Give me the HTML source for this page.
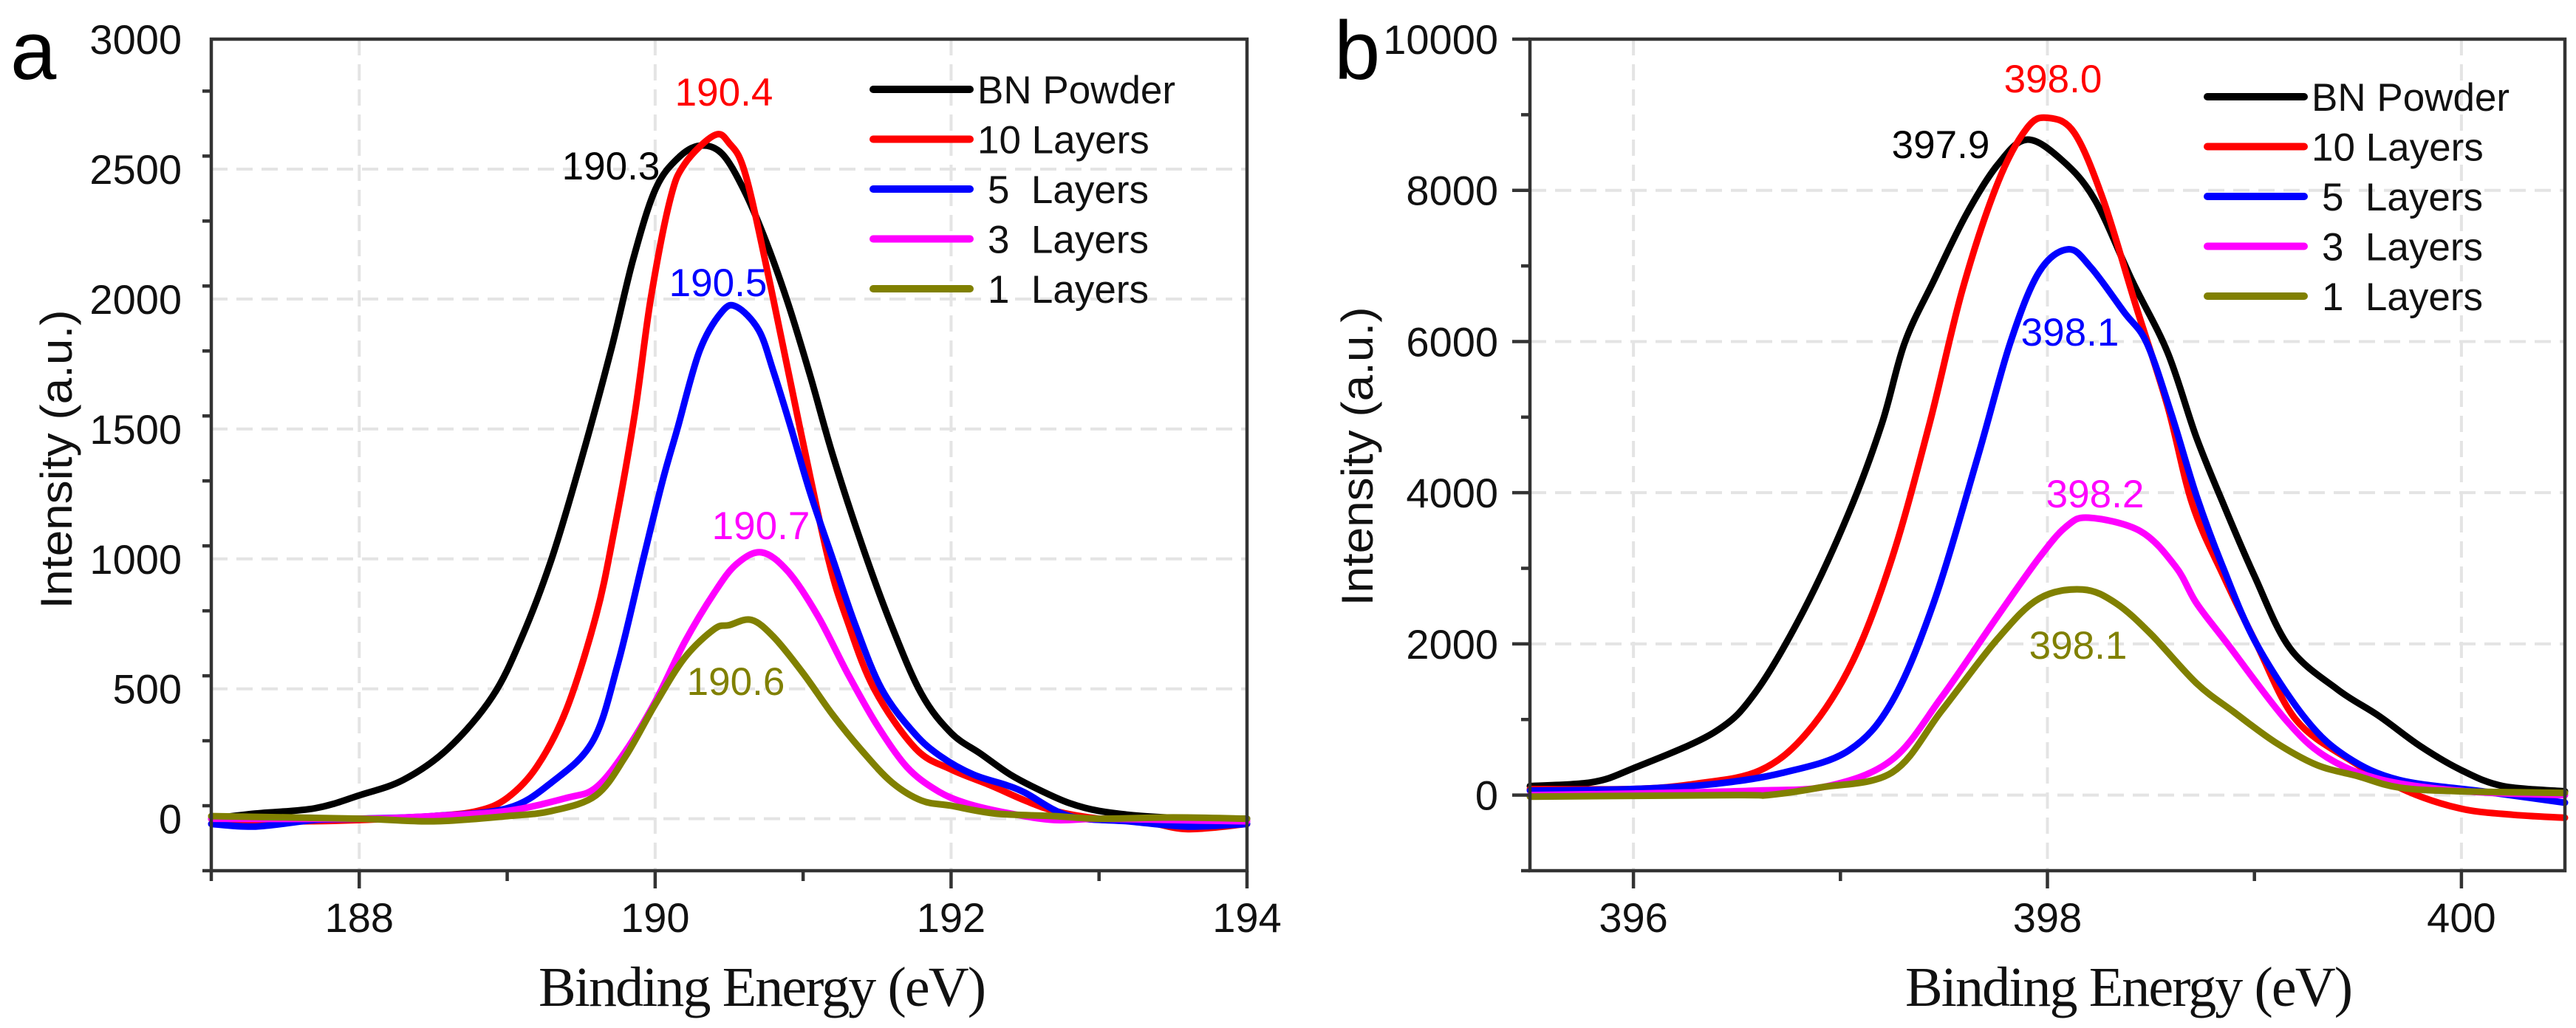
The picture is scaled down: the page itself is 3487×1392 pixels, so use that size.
<!DOCTYPE html>
<html><head><meta charset="utf-8"><style>
html,body{margin:0;padding:0;background:#fff;}
svg{display:block;}
text{font-family:"Liberation Sans",Arial,sans-serif;}
</style></head><body>
<svg id="chart" width="3487" height="1392" viewBox="0 0 3487 1392" xmlns="http://www.w3.org/2000/svg">
<g id="pa"></g>
<g id="pb"></g>
</svg>
<script>
// ---- Panel a data (B 1s) ----
const seriesNames = ["BN Powder","10 Layers","5  Layers","3  Layers","1  Layers"];
const seriesColors = ["#000000","#ff0000","#0000ff","#ff00ff","#808000"];
const aXTicks = [188,190,192,194];
const aYTicks = [0,500,1000,1500,2000,2500,3000];
const aBlackX = [187,187.3,187.7,188,188.3,188.6,188.9,189.1,189.3,189.5,189.7,189.85,190,190.15,190.3,190.45,190.6,190.75,190.9,191.05,191.2,191.4,191.6,191.8,192,192.2,192.4,192.6,192.8,193,193.3,193.7,194];
const aBlackY = [0,20,40,90,150,270,470,700,1000,1380,1800,2150,2420,2540,2590,2560,2420,2220,1980,1700,1400,1050,740,480,330,250,170,110,60,30,10,0,0];
const aRedX = [187,187.5,188,188.5,188.8,189,189.2,189.4,189.6,189.72,189.86,189.97,190.1,190.2,190.4,190.5,190.61,190.78,190.98,191.17,191.3,191.48,191.76,192,192.26,192.5,192.7,193,193.3,193.6,194];
const aRedY = [0,-10,-5,10,30,80,200,420,780,1100,1550,2000,2380,2520,2630,2600,2480,2050,1500,1000,760,500,270,190,130,70,30,0,-10,-40,-20];
const aBlueX = [187,187.3,187.7,188,188.5,189,189.3,189.58,189.75,189.92,190.05,190.15,190.3,190.45,190.55,190.7,190.8,190.92,191.05,191.2,191.35,191.53,191.75,191.93,192.15,192.37,192.5,192.8,193.2,193.6,194];
const aBlueY = [-20,-30,-5,0,10,40,140,300,600,1000,1300,1500,1800,1950,1970,1880,1720,1500,1250,1000,750,500,330,240,170,130,100,10,-10,-30,-20];
const aMagX = [187,188,188.5,189,189.4,189.6,189.8,190,190.2,190.4,190.55,190.72,190.9,191.1,191.3,191.5,191.7,191.9,192.1,192.4,192.7,193,193.5,194];
const aMagY = [0,0,10,30,80,120,260,450,680,870,980,1025,950,780,560,360,200,110,60,20,-5,0,-5,-10];
const aOliveX = [187,188,188.5,189,189.3,189.6,189.8,190,190.2,190.4,190.5,190.65,190.8,191,191.2,191.4,191.6,191.8,192,192.3,192.7,193,193.5,194];
const aOliveY = [10,0,-10,10,30,90,240,440,620,730,745,765,700,560,400,260,140,70,50,20,10,0,5,0];
const aPeakLabels = ["190.3","190.4","190.5","190.7","190.6"];

// ---- Panel b data (N 1s) ----
const bXTicks = [396,398,400];
const bYTicks = [0,2000,4000,6000,8000,10000];
const bBlackX = [395.5,395.8,396,396.39,396.59,396.82,397.04,397.2,397.31,397.45,397.61,397.76,397.9,398.07,398.23,398.41,398.58,398.72,398.85,399,399.17,399.4,399.6,399.8,400,400.2,400.5];
const bBlackY = [120,170,355,830,1360,2430,3730,4910,5980,6800,7690,8340,8670,8400,7870,6800,5860,4730,3850,2900,1950,1400,1050,650,330,120,50];
const bRedX = [395.5,396,396.3,396.61,396.84,397.06,397.25,397.43,397.59,397.76,397.9,398,398.13,398.27,398.43,398.58,398.7,398.85,399.01,399.2,399.47,399.74,400,400.25,400.5];
const bRedY = [80,80,150,325,830,1775,3140,4910,6690,8100,8820,8960,8760,7870,6450,5150,3850,2900,2000,1000,450,50,-180,-260,-300];
const bBlueX = [395.5,396,396.4,396.73,397.04,397.25,397.45,397.66,397.82,397.96,398.1,398.21,398.37,398.48,398.6,398.72,398.85,399.01,399.25,399.45,399.7,400.1,400.5];
const bBlueY = [60,80,150,300,590,1240,2540,4440,5980,6920,7220,6980,6390,5980,5030,3960,3000,2000,1000,500,200,50,-100];
const bMagX = [395.5,396,396.6,396.94,397.25,397.49,397.76,397.96,398.09,398.2,398.45,398.62,398.72,398.87,399.15,399.35,399.62,400.02,400.5];
const bMagY = [0,20,60,120,470,1300,2370,3140,3550,3670,3490,3020,2540,2000,1000,500,200,50,0];
const bOliveX = [395.5,396.5,396.65,396.9,397.25,397.49,397.76,397.96,398.17,398.33,398.5,398.72,398.9,399.1,399.3,399.5,399.7,400,400.5];
const bOliveY = [-20,0,0,100,300,1120,2070,2600,2720,2540,2130,1480,1100,700,400,250,100,50,30];
const bPeakLabels = ["397.9","398.0","398.1","398.2","398.1"];

const NS="http://www.w3.org/2000/svg";
function mk(parent,tag,attrs){const e=document.createElementNS(NS,tag);for(const k in attrs)e.setAttribute(k,attrs[k]);parent.appendChild(e);return e;}
function smoothPath(pts){
  let d="M"+pts[0][0].toFixed(1)+","+pts[0][1].toFixed(1);
  for(let i=0;i<pts.length-1;i++){
    const p0=pts[Math.max(0,i-1)],p1=pts[i],p2=pts[i+1],p3=pts[Math.min(pts.length-1,i+2)];
    const c1=[p1[0]+(p2[0]-p0[0])/6,p1[1]+(p2[1]-p0[1])/6];
    const c2=[p2[0]-(p3[0]-p1[0])/6,p2[1]-(p3[1]-p1[1])/6];
    d+=" C"+c1[0].toFixed(1)+","+c1[1].toFixed(1)+" "+c2[0].toFixed(1)+","+c2[1].toFixed(1)+" "+p2[0].toFixed(1)+","+p2[1].toFixed(1);
  }
  return d;
}

function drawPanel(g,cfg){
  const L=cfg.left,R=cfg.right,T=53,B=1179;
  const xs=v=>L+(v-cfg.xmin)/(cfg.xmax-cfg.xmin)*(R-L);
  const ys=v=>B-(v-cfg.ymin)/(cfg.ymax-cfg.ymin)*(B-T);
  cfg.xTicks.forEach(t=>{if(t>cfg.xmin&&t<cfg.xmax){const l=mk(g,"line",{x1:xs(t),x2:xs(t),y1:T,y2:B,stroke:"#e4e4e4","stroke-width":4,"stroke-dasharray":"22,12"});
    
    }});
  cfg.yTicks.forEach(t=>{if(t>cfg.ymin&&t<cfg.ymax){const l=mk(g,"line",{x1:L,x2:R,y1:ys(t),y2:ys(t),stroke:"#e4e4e4","stroke-width":4,"stroke-dasharray":"22,12"});
    
    }});
  cfg.series.forEach((s,i)=>{
    const pts=s.x.map((v,j)=>[xs(v),ys(s.y[j])]);
    const p=mk(g,"path",{d:smoothPath(pts),fill:"none",stroke:seriesColors[i],"stroke-width":9,"stroke-linejoin":"round","stroke-linecap":"round"});
    
    
  });
  const fr=mk(g,"rect",{x:L,y:T,width:R-L,height:B-T,fill:"none",stroke:"#333","stroke-width":4.5});
  
  
  for(let v=cfg.ymin;v<=cfg.ymax+1e-6;v+=cfg.yMinor){
    const major=cfg.yTicks.includes(v);
    const tk=mk(g,"line",{x1:L-(major?24:12),x2:L,y1:ys(v),y2:ys(v),stroke:"#333","stroke-width":4.5});
    
    
  }
  cfg.yTicks.forEach(t=>{
    const tx=mk(g,"text",{x:cfg.ylabX,y:ys(t)+20,"text-anchor":"end","font-size":56,fill:"#111"});
    tx.textContent=t;
    
    
  });
  for(let v=Math.ceil(cfg.xmin);v<=cfg.xmax+1e-6;v+=1){
    const major=cfg.xTicks.includes(v);
    const tk=mk(g,"line",{x1:xs(v),x2:xs(v),y1:B,y2:B+(major?24:14),stroke:"#333","stroke-width":4.5});
    
    
  }
  cfg.xTicks.forEach(t=>{
    const tx=mk(g,"text",{x:xs(t),y:1262,"text-anchor":"middle","font-size":56,fill:"#111"});
    tx.textContent=t;
    
    
  });
  const xt=mk(g,"text",{x:cfg.xtX,y:1362,"text-anchor":"middle","font-size":76,fill:"#111",textLength:606,lengthAdjust:"spacing",style:'font-family:"Liberation Serif",serif'});
  xt.textContent="Binding Energy (eV)";
  
  
  const yt=mk(g,"text",{x:0,y:0,"text-anchor":"middle","font-size":60,fill:"#111",textLength:405,lengthAdjust:"spacingAndGlyphs",transform:"translate("+cfg.ytX+","+cfg.ytY+") rotate(-90)"});
  yt.textContent="Intensity (a.u.)";
  
  
  const pl=mk(g,"text",{x:cfg.letterX,y:107,"font-size":112,fill:"#000"});
  pl.textContent=cfg.letter;
  
  
  cfg.peaks.forEach((p,i)=>{
    const tx=mk(g,"text",{x:p[0],y:p[1],"text-anchor":"middle","font-size":53,fill:seriesColors[i]});
    tx.textContent=cfg.peakLabels[i];
    
    
  });
  seriesNames.forEach((n,i)=>{
    const y=cfg.legY+i*67.5;
    const le=mk(g,"g",{});
    
    
    mk(le,"line",{x1:cfg.legX,x2:cfg.legX+131,y1:y,y2:y,stroke:seriesColors[i],"stroke-width":10,"stroke-linecap":"round"});
    const tx=mk(le,"text",{x:cfg.legX+141+(i>1?14:0),y:y+19,"font-size":53,fill:"#111"});
    tx.setAttribute("style","white-space:pre");
    tx.textContent=n;
  });
}

drawPanel(document.getElementById("pa"),{
  left:286,right:1688,xmin:187,xmax:194,ymin:-200,ymax:3000,yMinor:250,
  xTicks:aXTicks,yTicks:aYTicks,ylabX:246,xtX:1032,ytX:97,ytY:622,letter:"a",letterX:14,
  series:[{x:aBlackX,y:aBlackY},{x:aRedX,y:aRedY},{x:aBlueX,y:aBlueY},{x:aMagX,y:aMagY},{x:aOliveX,y:aOliveY}],
  peakLabels:aPeakLabels,
  peaks:[[827,243],[980,143],[972,401],[1030,730],[996,941]],
  legX:1182,legY:121
});
drawPanel(document.getElementById("pb"),{
  left:2071,right:3472,xmin:395.5,xmax:400.5,ymin:-1000,ymax:10000,yMinor:1000,
  xTicks:bXTicks,yTicks:bYTicks,ylabX:2028,xtX:2882,ytX:1858,ytY:618,letter:"b",letterX:1806,
  series:[{x:bBlackX,y:bBlackY},{x:bRedX,y:bRedY},{x:bBlueX,y:bBlueY},{x:bMagX,y:bMagY},{x:bOliveX,y:bOliveY}],
  peakLabels:bPeakLabels,
  peaks:[[2627,214],[2779,125],[2802,468],[2836,687],[2813,892]],
  legX:2988,legY:131
});
</script>
</body></html>
